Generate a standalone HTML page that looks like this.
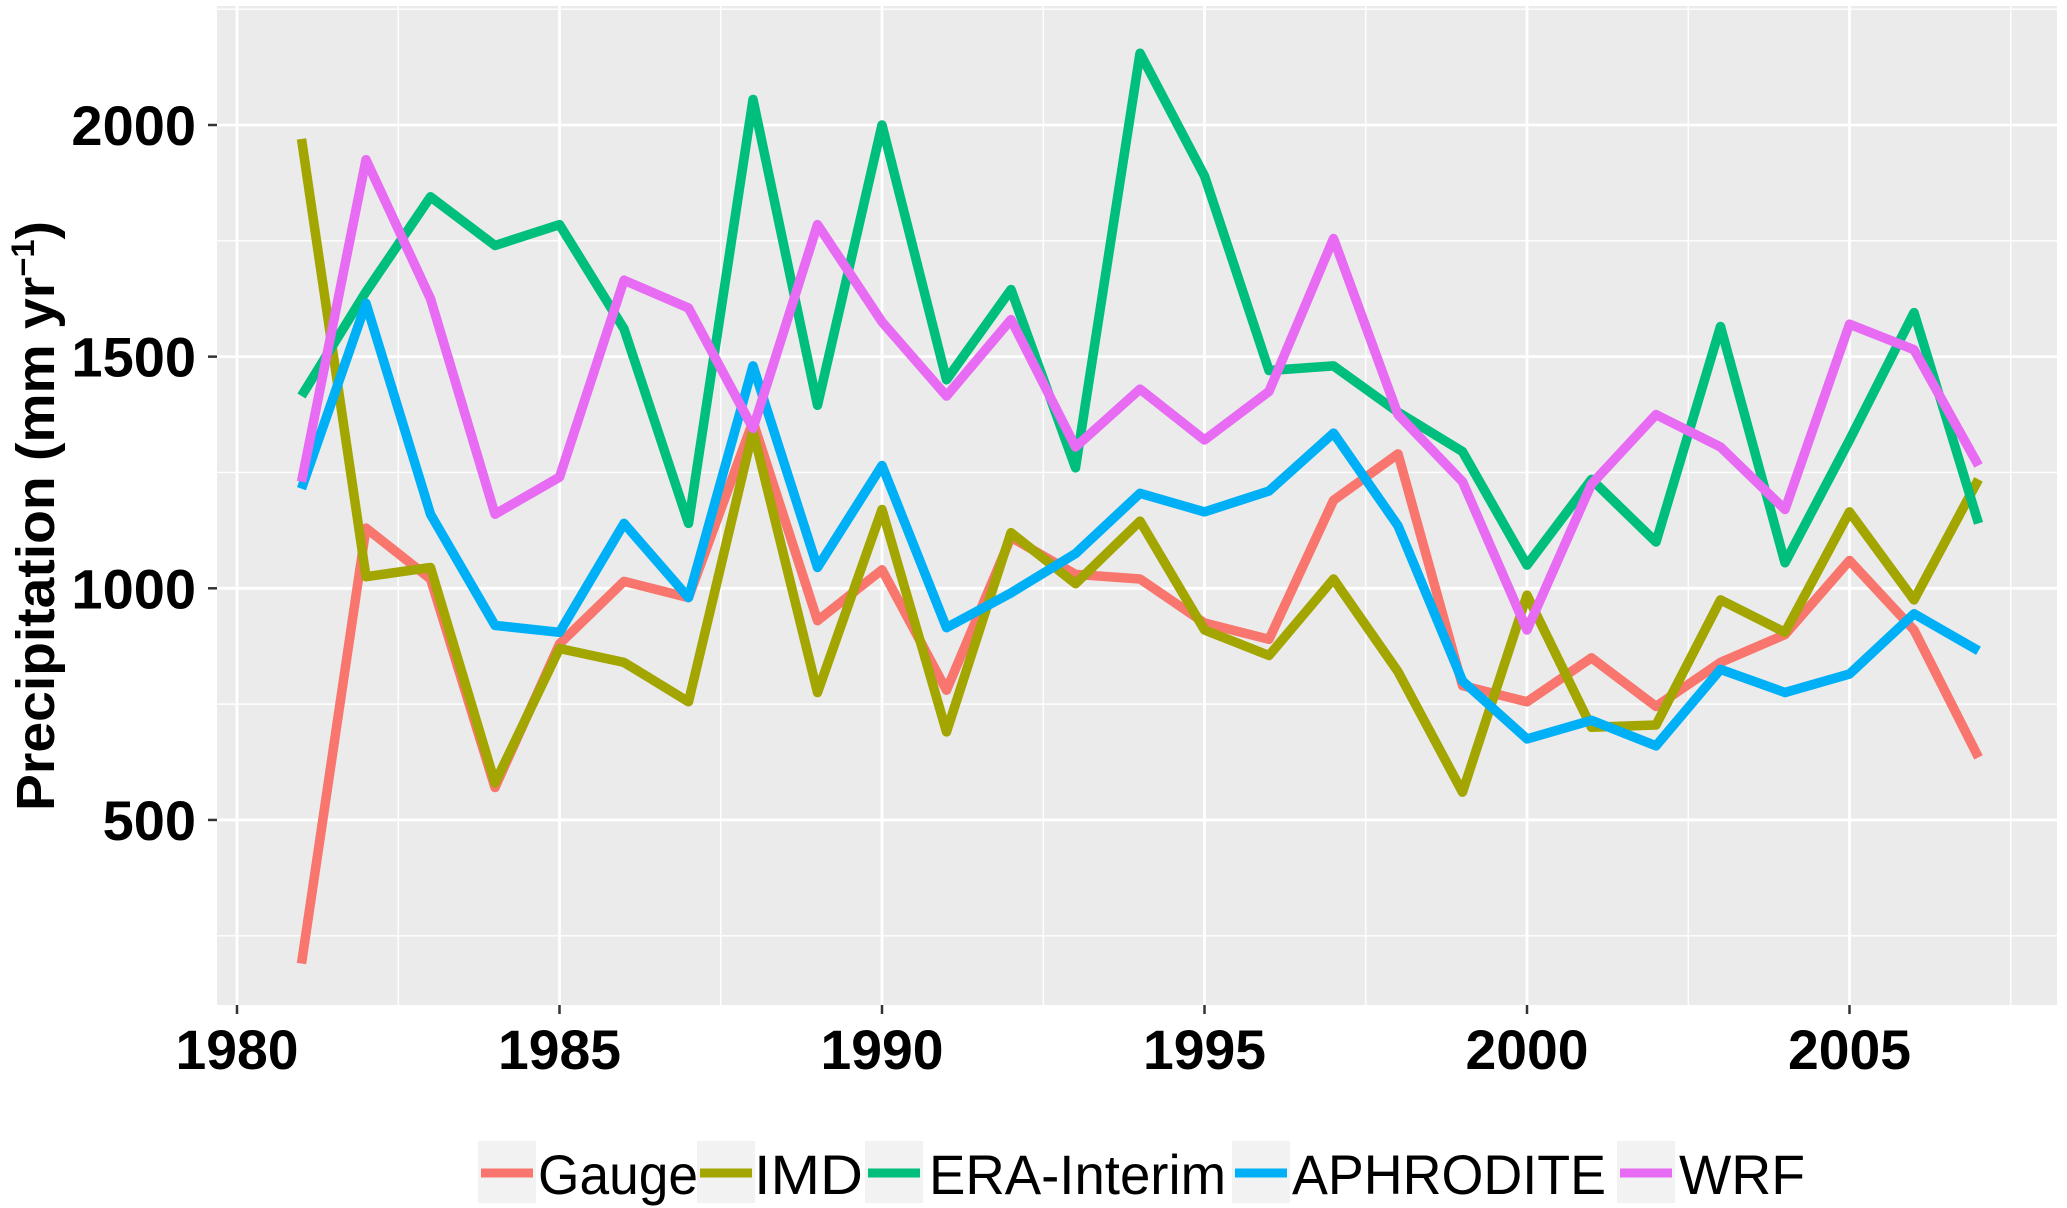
<!DOCTYPE html>
<html><head><meta charset="utf-8"><style>
html,body{margin:0;padding:0;background:#fff;}
svg{display:block;font-family:"Liberation Sans",Arial,sans-serif;}
</style></head><body>
<svg id="chart" width="2067" height="1208" viewBox="0 0 2067 1208">
<rect x="217" y="6" width="1840" height="999" fill="#ebebeb"/>
<g id="grid"></g>
<g id="axes"></g>
<g id="lines"></g>
<text transform="translate(54,516) rotate(-90)" text-anchor="middle" font-size="54" font-weight="bold" textLength="590" lengthAdjust="spacingAndGlyphs">Precipitation (mm yr<tspan dy="-20" font-size="32">−1</tspan><tspan dy="20">)</tspan></text>
<g id="legend"></g>
</svg>
<script>
const years=[1981,1982,1983,1984,1985,1986,1987,1988,1989,1990,1991,1992,1993,1994,1995,1996,1997,1998,1999,2000,2001,2002,2003,2004,2005,2006,2007];
const gauge=[190,1130,1020,570,880,1015,980,1360,930,1040,780,1110,1030,1020,925,890,1190,1290,790,755,850,745,840,900,1060,910,635];
const imd=[1970,1025,1045,580,870,840,755,1340,775,1170,690,1120,1010,1145,910,855,1020,820,560,985,700,705,975,905,1165,975,1235];
const era=[1415,1640,1845,1740,1785,1560,1140,2055,1395,2000,1450,1645,1260,2155,1890,1470,1480,1380,1295,1050,1235,1100,1565,1055,1320,1595,1140];
const aphro=[1215,1615,1160,920,905,1140,980,1480,1045,1265,915,990,1075,1205,1165,1210,1335,1135,800,675,715,660,825,775,815,945,865];
const wrf=[1230,1925,1625,1160,1240,1665,1605,1345,1785,1575,1415,1580,1305,1430,1320,1425,1755,1375,1230,910,1225,1375,1305,1170,1570,1515,1265];
const xTicks=[1980,1985,1990,1995,2000,2005];
const yTicks=[500,1000,1500,2000];
const seriesNames=["Gauge","IMD","ERA-Interim","APHRODITE","WRF"];
const seriesColors=["#f8766d","#a3a500","#00bf7d","#00b0f6","#e76bf3"];
const seriesData=[gauge,imd,era,aphro,wrf];

const NS="http://www.w3.org/2000/svg";
const PL=217,PR=2057,PT=6,PB=1005;
const X=y=>237+(y-1980)*64.5;
const Y=v=>125+(2000-v)*0.4633;
function mk(tag,attrs,parent){const e=document.createElementNS(NS,tag);for(const k in attrs)e.setAttribute(k,attrs[k]);parent.appendChild(e);return e;}
const grid=document.getElementById('grid'),axes=document.getElementById('axes'),lines=document.getElementById('lines'),legend=document.getElementById('legend');
for(let v=250;v<=2250;v+=500){const l=mk('line',{x1:PL,x2:PR,y1:Y(v),y2:Y(v),stroke:'#fff','stroke-width':1.4},grid);

}
for(let y=1982.5;y<=2007.5;y+=5){const l=mk('line',{x1:X(y),x2:X(y),y1:PT,y2:PB,stroke:'#fff','stroke-width':1.4},grid);

}
yTicks.forEach(v=>{const l=mk('line',{x1:PL,x2:PR,y1:Y(v),y2:Y(v),stroke:'#fff','stroke-width':2.8},grid);


const t=mk('line',{x1:PL-9,x2:PL,y1:Y(v),y2:Y(v),stroke:'#333','stroke-width':2.5},axes);


const tx=mk('text',{x:196,y:Y(v)+20,'text-anchor':'end','font-size':56,'font-weight':'bold'},axes);tx.textContent=v;

});
xTicks.forEach(y=>{const l=mk('line',{x1:X(y),x2:X(y),y1:PT,y2:PB,stroke:'#fff','stroke-width':2.8},grid);


const t=mk('line',{x1:X(y),x2:X(y),y1:PB,y2:PB+9,stroke:'#333','stroke-width':2.5},axes);


const tx=mk('text',{x:X(y),y:1069,'text-anchor':'middle','font-size':56,'font-weight':'bold',textLength:123,lengthAdjust:'spacingAndGlyphs'},axes);tx.textContent=y;

});
seriesData.forEach((d,i)=>{const pts=d.map((v,j)=>X(years[j]).toFixed(1)+','+Y(v).toFixed(1)).join(' ');
const p=mk('polyline',{points:pts,fill:'none',stroke:seriesColors[i],'stroke-width':9.5,'stroke-linejoin':'round'},lines);

});
const keyX=[478,697,865,1232,1617],txtX=[538,754,929,1292,1679],txtW=[160,109,297,314,126];
seriesNames.forEach((n,i)=>{const g=mk('g',{},legend);


mk('rect',{x:keyX[i],y:1141,width:58,height:62,fill:'#f2f2f2'},g);
mk('line',{x1:keyX[i]+3,x2:keyX[i]+55,y1:1173,y2:1173,stroke:seriesColors[i],'stroke-width':9},g);
const t=mk('text',{x:txtX[i],y:1194,'font-size':56,textLength:txtW[i],lengthAdjust:'spacingAndGlyphs'},g);t.textContent=n;});
</script>
</body></html>
